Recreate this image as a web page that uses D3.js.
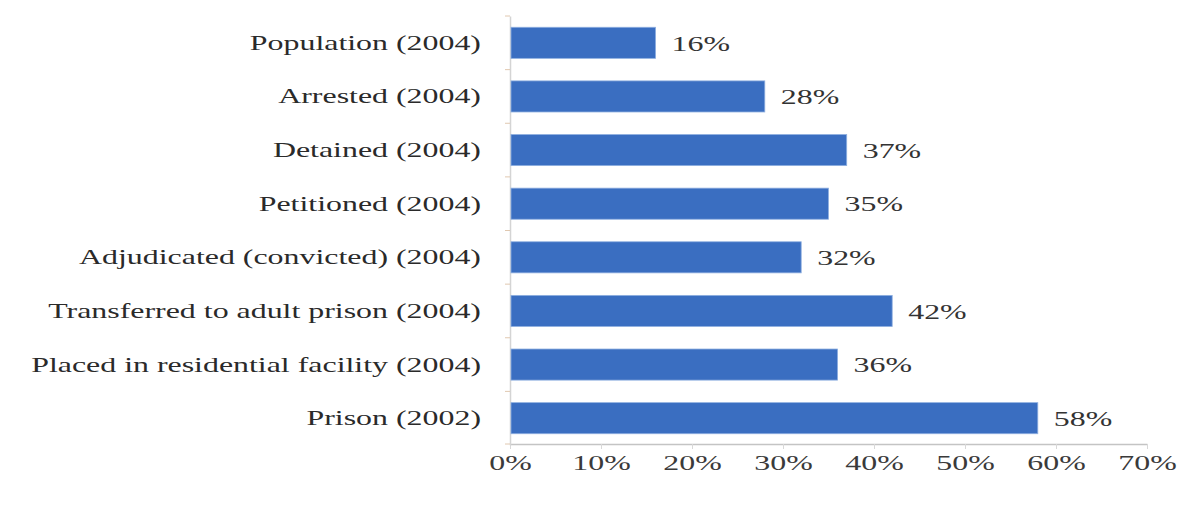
<!DOCTYPE html>
<html><head><meta charset="utf-8">
<script src="https://cdn.jsdelivr.net/npm/d3@7"></script>
<style>
body{margin:0;background:#fff}
svg text{font-family:"Liberation Serif","Times New Roman",serif;}
</style>
</head><body>
<svg id="c" width="1179" height="516"></svg>
<script>
const categories = [
  "Population (2004)",
  "Arrested (2004)",
  "Detained (2004)",
  "Petitioned (2004)",
  "Adjudicated (convicted) (2004)",
  "Transferred to adult prison (2004)",
  "Placed in residential facility (2004)",
  "Prison (2002)"
];
const values = [16, 28, 37, 35, 32, 42, 36, 58];
const tickValues = [0, 10, 20, 30, 40, 50, 60, 70];
const tickLabels = ["0%", "10%", "20%", "30%", "40%", "50%", "60%", "70%"];

const SX = 1.45;
const svg = d3.select("#c");
const x = d3.scaleLinear().domain([0, 70]).range([510, 1147]);
const y = d3.scaleBand().domain(categories).range([16, 445]).paddingInner(0.42).paddingOuter(0.21);

// x axis
const xa = svg.append("g").attr("transform", "translate(0,444)")
  .call(d3.axisBottom(x).tickValues(tickValues).tickSize(5).tickSizeOuter(0)
    .tickFormat((d, i) => tickLabels[i]));
xa.select(".domain").attr("stroke", "#c4c4c4").attr("stroke-width", 1.5);
xa.selectAll(".tick line").attr("stroke", "#d8d8d8");
xa.selectAll(".tick text").attr("font-size", 22).attr("fill", "#3a3a3a")
  .attr("y", 10).attr("transform", `scale(${SX},1)`);

// y axis
const ya = svg.append("g").attr("transform", "translate(510,0)")
  .call(d3.axisLeft(y).tickSize(0).tickSizeOuter(0).tickPadding(20));
ya.select(".domain").attr("stroke", "#d4d4d4").attr("stroke-width", 1.5);
ya.selectAll(".tick text").attr("font-size", 22).attr("fill", "#2a2a2a")
  .attr("transform", `scale(${SX},1)`);
// boundary ticks
const bounds = categories.map(c => y(c) - y.step() * y.paddingInner() / 2).concat([444]);
ya.selectAll(".btick").data(bounds).join("line").attr("class", "btick")
  .attr("x1", -5).attr("x2", 0).attr("y1", d => d).attr("y2", d => d)
  .attr("stroke", "#e0c8b0");

// bars
svg.append("g").selectAll("rect").data(values).join("rect")
  .attr("x", x(0) + 1)
  .attr("y", (d, i) => y(categories[i]))
  .attr("width", d => x(d) - x(0) - 1)
  .attr("height", y.bandwidth())
  .attr("fill", "#3a6ec1")
  .attr("stroke", "#8fb0e0").attr("stroke-width", 0.8);

// value labels
svg.append("g").selectAll("text").data(values).join("text")
  .attr("transform", (d, i) => `translate(${x(d) + 16},${y(categories[i]) + y.bandwidth() / 2}) scale(${SX},1)`)
  .attr("dy", "0.35em")
  .attr("font-size", 22).attr("fill", "#333")
  .text(d => d + "%");
</script>
</body></html>
